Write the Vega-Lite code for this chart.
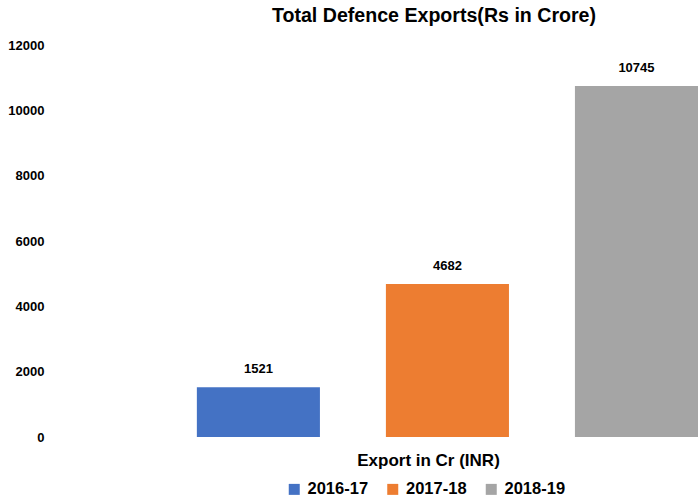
{
  "$schema": "https://vega.github.io/schema/vega-lite/v6.json",
  "width": 638,
  "height": 392,
  "autosize": {"type": "none"},
  "padding": {"left": 60, "top": 45, "right": 0, "bottom": 65},
  "background": "white",
  "config": {
    "view": {"stroke": null},
    "font": "Liberation Sans"
  },
  "title": {
    "text": "Total Defence Exports(Rs in Crore)",
    "font": "Liberation Sans",
    "fontSize": 19.6,
    "fontWeight": "bold",
    "color": "#000000",
    "anchor": "middle",
    "frame": "group",
    "dx": 55,
    "offset": 12
  },
  "data": {
    "values": [
      {"year": "2016-17", "value": 1521},
      {"year": "2017-18", "value": 4682},
      {"year": "2018-19", "value": 10745}
    ]
  },
  "encoding": {
    "x": {
      "field": "year",
      "type": "nominal",
      "scale": {"paddingInner": 0.349, "paddingOuter": 0.362, "align": 1},
      "axis": {
        "labels": false,
        "ticks": false,
        "domain": false,
        "title": "Export in Cr (INR)",
        "titleFont": "Liberation Sans",
        "titleFontSize": 17,
        "titleFontWeight": "bold",
        "titleColor": "#000000",
        "titleX": 368,
        "titlePadding": 15
      }
    },
    "y": {
      "field": "value",
      "type": "quantitative",
      "scale": {"domain": [0, 12000], "nice": false},
      "axis": {
        "values": [0, 2000, 4000, 6000, 8000, 10000, 12000],
        "title": null,
        "grid": false,
        "domain": false,
        "ticks": false,
        "labelPadding": 16,
        "labelFont": "Liberation Sans",
        "labelFontSize": 13,
        "labelFontWeight": "bold",
        "labelColor": "#000000",
        "format": "d"
      }
    }
  },
  "layer": [
    {
      "mark": {"type": "bar"},
      "encoding": {
        "color": {
          "field": "year",
          "type": "nominal",
          "scale": {"domain": ["2016-17", "2017-18", "2018-19"], "range": ["#4472C4", "#ED7D31", "#A5A5A5"]},
          "legend": {
            "title": null,
            "orient": "none",
            "direction": "horizontal",
            "legendX": 226,
            "legendY": 436,
            "symbolType": "square",
            "symbolSize": 121,
            "symbolStrokeWidth": 0,
            "symbolOpacity": 1,
            "labelFont": "Liberation Sans",
            "labelFontSize": 16.5,
            "labelFontWeight": "bold",
            "labelColor": "#000000",
            "labelOffset": 5,
            "columnPadding": 15.5
          }
        }
      }
    },
    {
      "mark": {
        "type": "text",
        "baseline": "bottom",
        "dy": -11,
        "font": "Liberation Sans",
        "fontSize": 13,
        "fontWeight": "bold",
        "color": "#000000"
      },
      "encoding": {
        "text": {"field": "value", "type": "quantitative", "format": "d"}
      }
    }
  ]
}
